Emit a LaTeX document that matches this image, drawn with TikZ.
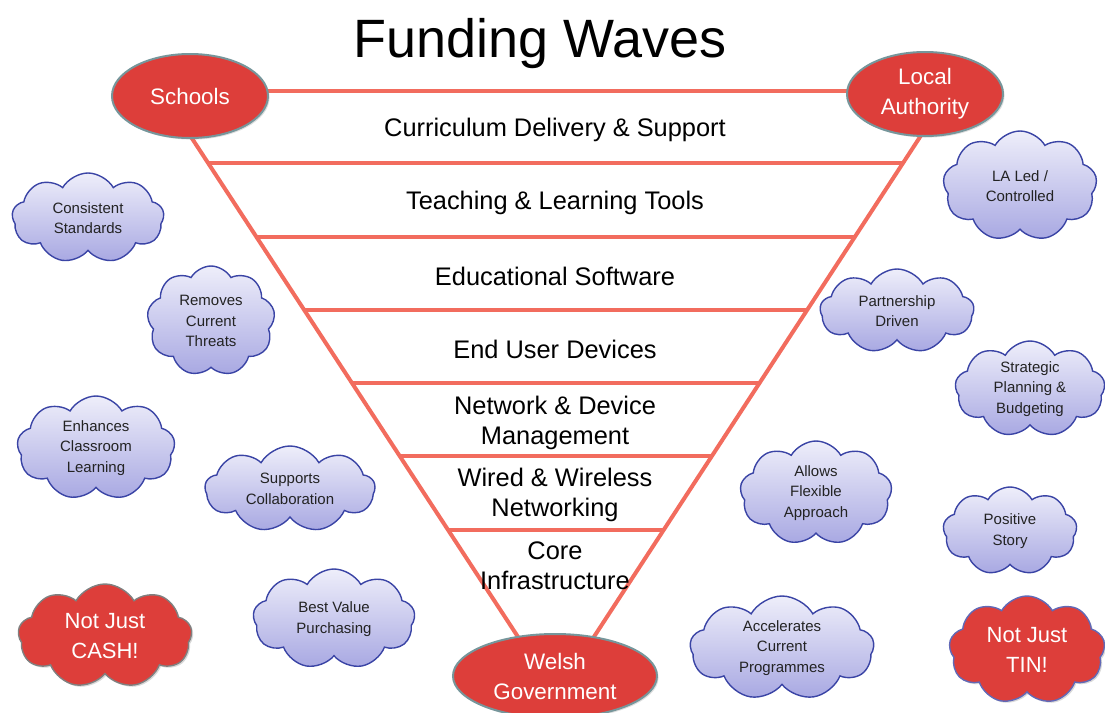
\documentclass[tikz,border=0pt]{standalone}
\usepackage{fontspec}
\setmainfont{Liberation Sans}
\usetikzlibrary{positioning, shapes, shapes.geometric, shapes.symbols, backgrounds, calc, shadows}

\definecolor{ovalred}{RGB}{221,62,58}
\definecolor{ovaledge}{RGB}{118,150,155}
\definecolor{waveline}{RGB}{242,108,94}
\definecolor{cloudtop}{RGB}{238,238,250}
\definecolor{cloudbottom}{RGB}{168,168,226}
\definecolor{cloudedge}{RGB}{58,68,165}
\definecolor{cloudtext}{RGB}{35,35,35}

\tikzset{
  owner/.style={ellipse, draw=ovaledge, line width=1pt, fill=ovalred, text=white,
    inner sep=0pt, align=center, font=\fontsize{11.2}{15}\selectfont,
    drop shadow={opacity=0.25, shadow xshift=0.8pt, shadow yshift=-0.8pt}},
  idea/.style={cloud, cloud puffs=9, cloud puff arc=120, cloud ignores aspect,
    draw=cloudedge, line width=0.7pt, top color=cloudtop, bottom color=cloudbottom,
    text=cloudtext, align=center, inner sep=0pt, font=\fontsize{7.5}{10.25}\selectfont},
  slogan/.style={cloud, cloud puffs=9, cloud puff arc=120, cloud ignores aspect,
    line width=0.7pt, fill=ovalred, text=white, align=center, inner sep=0pt,
    font=\fontsize{11}{15}\selectfont,
    drop shadow={opacity=0.3, shadow xshift=0.8pt, shadow yshift=-0.8pt}},
  layer/.style={align=center, font=\fontsize{12.7}{15}\selectfont},
  wave/.style={draw=waveline, line width=2pt},
}

\begin{document}
\begin{tikzpicture}[x=0.5pt, y=-0.5pt]
\useasboundingbox (0,0) rectangle (1105,713);

\node (title) at (540,44) {\fontsize{27}{30}\selectfont Funding Waves};

\node (schools) [owner, minimum width=78pt, minimum height=42pt] at (190,96) {Schools};
\node (la) [owner, minimum width=78pt, minimum height=42pt] at (925,94) {Local\\Authority};
\node (welsh) [owner, minimum width=102pt, minimum height=42pt] at (555,676) {Welsh\\Government};

% funnel corners
\coordinate (lt) at (161,91);
\coordinate (rt) at (950,91);
\coordinate (apex) at (556,695);
\begin{scope}[on background layer]
\draw[wave] (lt) -- (rt);
\draw[wave] (lt) -- (apex) -- (rt);
\foreach \t in {0.119,0.241,0.363,0.484,0.605,0.726}
  \draw[wave] ($(lt)!\t!(apex)$) -- ($(rt)!\t!(apex)$);
\end{scope}

\node (curr) [layer] at (555,130) {Curriculum Delivery \& Support};
\node (tools) [layer] at (555,203) {Teaching \& Learning Tools};
\node (soft) [layer] at (555,276) {Educational Software};
\node (dev) [layer] at (555,349) {End User Devices};
\node (mgmt) [layer] at (555,423) {Network \& Device\\Management};
\node (net) [layer] at (555,495) {Wired \& Wireless\\Networking};
\node (core) [layer] at (555,566) {Core\\Infrastructure};

% left clouds
\node (standards) [idea, minimum width=76pt, minimum height=45pt] at (88,218) {Consistent\\Standards};
\node (threats) [idea, minimum width=64pt, minimum height=55pt] at (211,321) {Removes\\Current\\Threats};
\node (classroom) [idea, minimum width=79pt, minimum height=52pt] at (96,448) {Enhances\\Classroom\\Learning};
\node (collab) [idea, minimum width=85pt, minimum height=43pt] at (290,489) {Supports\\Collaboration};
\node (value) [idea, minimum width=81pt, minimum height=50pt] at (334,619) {Best Value\\Purchasing};
\node (cash) [slogan, draw=gray, minimum width=87pt, minimum height=52pt] at (105,636) {Not Just\\CASH!};

% right clouds
\node (led) [idea, minimum width=77pt, minimum height=55pt] at (1020,186) {LA Led /\\Controlled};
\node (partner) [idea, minimum width=77pt, minimum height=42pt] at (897,311) {Partnership\\Driven};
\node (plan) [idea, minimum width=75pt, minimum height=48pt] at (1030,389) {Strategic\\Planning \&\\Budgeting};
\node (flex) [idea, minimum width=76pt, minimum height=52pt] at (816,493) {Allows\\Flexible\\Approach};
\node (story) [idea, minimum width=67pt, minimum height=44pt] at (1010,531) {Positive\\Story};
\node (accel) [idea, minimum width=92pt, minimum height=52pt] at (782,648) {Accelerates\\Current\\Programmes};
\node (tin) [slogan, draw=cloudedge!80, minimum width=78pt, minimum height=54pt] at (1027,650) {Not Just\\TIN!};
\end{tikzpicture}
\end{document}
